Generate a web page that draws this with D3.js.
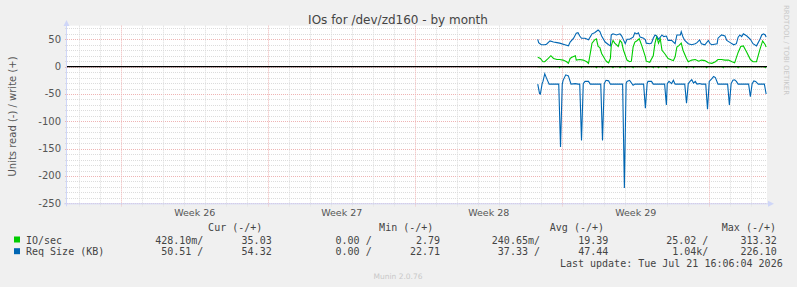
<!DOCTYPE html>
<html>
<head>
<meta charset="utf-8">
<script src="https://cdn.jsdelivr.net/npm/d3@7"></script>
<style>
  body { margin: 0; background: #f0f0f0; }
  svg { display: block; font-family: "DejaVu Sans", sans-serif; }
  .mono { font-family: "DejaVu Sans Mono", monospace; }
</style>
</head>
<body>
<div class="svg-container"></div>
<script>
// hours after 2026-07-10 00:00 and the values
const reqWriteHours = [20, 21, 24, 28, 30, 34, 38, 42, 45, 51, 55, 57, 61, 64, 66, 68, 70, 74, 78, 82, 85, 89, 91, 93, 97, 101, 103, 104, 106, 110, 114, 116, 118, 120, 122, 125, 129, 131, 133, 135, 137, 141, 143, 144, 148, 150, 152, 154, 156, 158, 162, 164, 167, 169, 173, 177, 179, 183, 184, 186, 188, 192, 196, 200, 202, 205, 207, 211, 215, 217, 219, 225, 226, 230, 234, 236, 240, 244, 247, 249, 251, 253, 255, 259, 263, 266, 270, 274, 276, 278, 280, 281];
const reqWriteValues = [50, 44, 40, 40, 41, 47, 45, 44, 43, 40, 38, 45, 52, 61, 62, 56, 52, 52, 49, 60, 62, 67, 64, 56, 45, 40, 38, 58, 60, 58, 60, 56, 49, 42, 50, 50, 54, 62, 60, 62, 54, 52, 49, 43, 42, 43, 52, 58, 56, 50, 58, 55, 56, 48, 48, 42, 58, 58, 64, 54, 48, 42, 40, 42, 44, 49, 42, 40, 48, 42, 40, 42, 52, 58, 56, 48, 44, 40, 42, 54, 58, 55, 60, 56, 50, 42, 38, 50, 58, 60, 58, 54];

const ioWriteHours = [20, 23, 26, 28, 32, 35, 38, 42, 45, 49, 53, 55, 57, 59, 63, 64, 68, 72, 76, 78, 80, 82, 85, 87, 89, 91, 93, 97, 99, 101, 103, 104, 106, 108, 112, 114, 116, 118, 122, 125, 127, 129, 131, 133, 136, 139, 143, 144, 148, 152, 154, 156, 158, 160, 162, 165, 169, 173, 175, 177, 179, 181, 184, 186, 190, 192, 196, 200, 204, 207, 211, 215, 219, 223, 226, 230, 234, 238, 242, 245, 249, 252, 255, 259, 263, 266, 270, 274, 277, 280, 281];
const ioWriteValues = [17, 15, 9, 9, 15, 20, 15, 13, 13, 12, 9, 6, 15, 17, 20, 12, 13, 12, 9, 6, 24, 43, 49, 51, 37, 35, 24, 13, 9, 7, 15, 38, 48, 43, 37, 48, 44, 30, 12, 9, 10, 36, 45, 47, 51, 38, 18, 10, 8, 20, 43, 55, 43, 51, 30, 24, 15, 12, 11, 18, 36, 38, 43, 30, 15, 9, 12, 13, 10, 12, 11, 7, 6, 9, 13, 13, 12, 12, 9, 7, 26, 37, 38, 26, 13, 9, 9, 32, 47, 40, 36];

const reqReadHours = [20, 22, 23, 25, 26, 28, 30, 33, 44, 46, 48, 49, 52, 55, 58, 63, 66, 68, 70, 72, 74, 78, 80, 92, 94, 96, 98, 101, 103, 117, 119, 121, 122, 125, 129, 131, 141, 143, 145, 146, 150, 152, 165, 167, 168, 170, 173, 175, 177, 188, 190, 192, 194, 196, 198, 200, 202, 205, 207, 212, 214, 216, 219, 221, 223, 226, 237, 239, 241, 243, 245, 247, 249, 261, 263, 265, 267, 269, 272, 279, 281];
const reqReadValues = [-32, -49, -50, -31, -27, -13, -21, -32, -32, -147, -32, -25, -15, -17, -32, -31, -32, -32, -135, -31, -27, -27, -32, -32, -135, -31, -25, -26, -32, -32, -222, -31, -27, -25, -34, -32, -32, -76, -31, -27, -27, -32, -32, -70, -31, -27, -31, -25, -32, -32, -67, -31, -27, -24, -30, -27, -32, -31, -32, -32, -78, -27, -22, -18, -20, -32, -32, -70, -31, -25, -24, -27, -32, -32, -55, -31, -26, -27, -32, -32, -50];

const ioReadHours = [20, 44, 45, 46, 69, 70, 71, 86, 87, 88, 93, 94, 95, 105, 106, 107, 113, 114, 115, 119, 120, 121, 128, 129, 130, 143, 144, 145, 151, 152, 153, 157, 158, 159, 166, 167, 168, 189, 190, 191, 197, 198, 199, 212, 213, 214, 231, 232, 233, 248, 249, 250, 279, 280, 281];
const ioReadValues = [0, 0, -2, 0, 0, -2, 0, 0, -2, 0, 0, -2, 0, 0, -2, 0, 0, -2, 0, 0, -2, 0, 0, -2, 0, 0, -2, 0, 0, -2, 0, 0, -2, 0, 0, -2, 0, 0, -2, 0, 0, -2, 0, 0, -2, 0, 0, -2, 0, 0, -2, 0, 0, -2, 0];

const yTicks = [-250, -200, -150, -100, -50, 0, 50];
const weekLabels = ["Week 26", "Week 27", "Week 28", "Week 29"];
const legendNames = ["IO/sec", "Req Size (KB)"];
const legendHeaders = ["Cur (-/+)", "Min (-/+)", "Avg (-/+)", "Max (-/+)"];
const ioStats = ["428.10m/", "35.03", "0.00 /", "2.79", "240.65m/", "19.39", "25.02 /", "313.32"];
const reqStats = ["50.51 /", "54.32", "0.00 /", "22.71", "37.33 /", "47.44", "1.04k/", "226.10"];
const lastUpdate = "Last update: Tue Jul 21 16:06:04 2026";

const width = 797;
const height = 287;
const plot = { left: 67, right: 767, top: 25.65, bottom: 203.3 };
const green = "#00cc00";
const blue = "#0066b3";

const base = new Date(2026, 6, 10);
const toSeries = (hours, values) =>
  hours.map((h, i) => ({ t: d3.timeHour.offset(base, h), v: values[i] }));

const svg = d3
  .select(".svg-container")
  .append("svg")
  .attr("width", width)
  .attr("height", height);

svg.append("rect").attr("width", width).attr("height", height).attr("fill", "#f0f0f0");

// scales
const xScale = d3
  .scaleTime()
  .domain([new Date(2026, 5, 18, 10), new Date(2026, 6, 21, 18)])
  .range([plot.left, plot.right]);
const yScale = d3.scaleLinear().domain([-250, 75]).range([plot.bottom, plot.top]);

// canvas
svg
  .append("rect")
  .attr("x", plot.left)
  .attr("y", plot.top)
  .attr("width", plot.right - plot.left)
  .attr("height", plot.bottom - plot.top)
  .attr("fill", "#ffffff");

// horizontal grid, minor every 10, major every 50
const yMinor = d3.range(-250, 71, 10);
svg
  .append("g")
  .selectAll("line")
  .data(yMinor)
  .join("line")
  .attr("x1", plot.left - 2)
  .attr("x2", plot.right)
  .attr("y1", (d) => Math.round(yScale(d)) + 0.5)
  .attr("y2", (d) => Math.round(yScale(d)) + 0.5)
  .attr("stroke", (d) => (d % 50 === 0 ? "#efb4b4" : "#dcdcdc"))
  .attr("stroke-dasharray", "1,1");

// vertical grid, minor each day, major each week
const days = d3.timeDay.range(...xScale.domain());
svg
  .append("g")
  .selectAll("line")
  .data(days)
  .join("line")
  .attr("x1", (d) => Math.round(xScale(d)) + 0.5)
  .attr("x2", (d) => Math.round(xScale(d)) + 0.5)
  .attr("y1", plot.top)
  .attr("y2", plot.bottom + 3)
  .attr("stroke", (d) => (d.getDay() === 0 ? "#efb4b4" : "#dcdcdc"))
  .attr("stroke-dasharray", "1,1");

// y tick labels
svg
  .append("g")
  .selectAll("text")
  .data(yTicks)
  .join("text")
  .attr("x", 61)
  .attr("y", (d) => yScale(d) + 3.5)
  .attr("text-anchor", "end")
  .attr("font-size", 10)
  .attr("fill", "#555")
  .text((d) => d);

// week labels centred inside each week
const weekStarts = d3.timeSunday.range(new Date(2026, 5, 21), new Date(2026, 6, 19));
svg
  .append("g")
  .selectAll("text")
  .data(weekStarts)
  .join("text")
  .attr("x", (d) => xScale(d3.timeHour.offset(d, 84)))
  .attr("y", 216)
  .attr("text-anchor", "middle")
  .attr("font-size", 9.5)
  .attr("fill", "#555")
  .text((d, i) => weekLabels[i]);

// data lines
const line = d3
  .line()
  .x((d) => xScale(d.t))
  .y((d) => yScale(d.v));

const series = [
  { data: toSeries(ioReadHours, ioReadValues), color: green },
  { data: toSeries(reqReadHours, reqReadValues), color: blue },
  { data: toSeries(ioWriteHours, ioWriteValues), color: green },
  { data: toSeries(reqWriteHours, reqWriteValues), color: blue },
];
series.forEach((s) => {
  svg
    .append("path")
    .datum(s.data)
    .attr("fill", "none")
    .attr("stroke", s.color)
    .attr("stroke-width", 1.1)
    .attr("d", line);
});

// zero line
svg
  .append("line")
  .attr("x1", plot.left)
  .attr("x2", plot.right)
  .attr("y1", yScale(0))
  .attr("y2", yScale(0))
  .attr("stroke", "#000")
  .attr("stroke-width", 1.3);

// axes with arrows
const axisColor = "#cfd6f8";
svg
  .append("line")
  .attr("x1", plot.left - 0.5)
  .attr("x2", plot.left - 0.5)
  .attr("y1", plot.bottom + 3)
  .attr("y2", 22)
  .attr("stroke", axisColor);
svg
  .append("line")
  .attr("x1", plot.left - 3)
  .attr("x2", 770)
  .attr("y1", plot.bottom + 0.5)
  .attr("y2", plot.bottom + 0.5)
  .attr("stroke", axisColor);
svg
  .append("path")
  .attr("d", `M${plot.left - 3.5},26 L${plot.left - 0.5},20 L${plot.left + 2.5},26 Z`)
  .attr("fill", axisColor);
svg
  .append("path")
  .attr("d", `M768,${plot.bottom - 2.5} L774,${plot.bottom + 0.5} L768,${plot.bottom + 3.5} Z`)
  .attr("fill", axisColor);

// title
svg
  .append("text")
  .attr("x", 398)
  .attr("y", 23.5)
  .attr("text-anchor", "middle")
  .attr("font-size", 12)
  .attr("fill", "#444")
  .text("IOs for /dev/zd160 - by month");

// y axis label
svg
  .append("text")
  .attr("transform", `translate(15.5,${(plot.top + plot.bottom) / 2 + 2}) rotate(-90)`)
  .attr("text-anchor", "middle")
  .attr("font-size", 10)
  .attr("fill", "#555")
  .text("Units read (-) / write (+)");

// rrdtool credit
svg
  .append("text")
  .attr("transform", "translate(784,5) rotate(90)")
  .attr("font-size", 7)
  .attr("fill", "#c8c8c8")
  .text("RRDTOOL / TOBI OETIKER");

// legend
const legend = svg.append("g").attr("class", "mono").attr("font-size", 10).attr("fill", "#444");
const headerEnds = [262.3, 433.3, 604, 776];
legendHeaders.forEach((h, i) => {
  legend.append("text").attr("x", headerEnds[i]).attr("y", 230.5).attr("text-anchor", "end").text(h);
});
const statEnds = [203.3, 271.7, 371.7, 440, 540, 608.3, 708.3, 776.7];
[ioStats, reqStats].forEach((stats, r) => {
  const y = 243.5 + r * 11.7;
  legend
    .append("rect")
    .attr("x", 14)
    .attr("y", y - 7)
    .attr("width", 6)
    .attr("height", 6)
    .attr("fill", r === 0 ? green : blue);
  legend.append("text").attr("x", 26).attr("y", y).text(legendNames[r]);
  stats.forEach((s, i) => {
    legend.append("text").attr("x", statEnds[i]).attr("y", y).attr("text-anchor", "end").text(s);
  });
});
legend.append("text").attr("x", 782.7).attr("y", 267).attr("text-anchor", "end").text(lastUpdate);

svg
  .append("text")
  .attr("x", 398)
  .attr("y", 279)
  .attr("text-anchor", "middle")
  .attr("font-size", 7.5)
  .attr("fill", "#c8c8c8")
  .text("Munin 2.0.76");
</script>
</body>
</html>
